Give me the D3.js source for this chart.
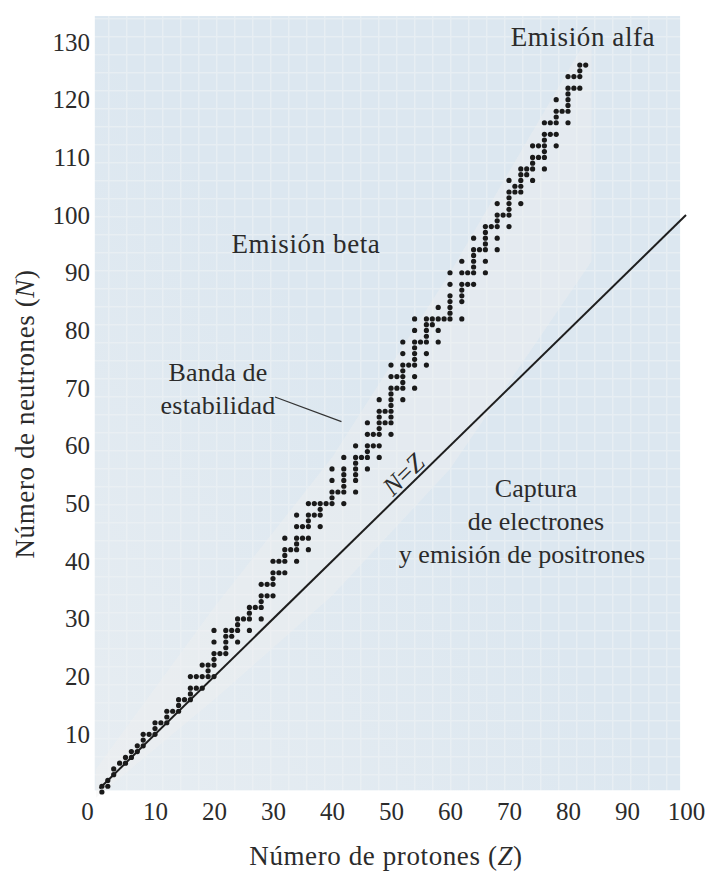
<!DOCTYPE html>
<html><head><meta charset="utf-8">
<script src="https://cdn.jsdelivr.net/npm/d3@7"></script>
<style>body{margin:0;background:#fff}</style>
</head><body>
<svg id="chart" width="709" height="871"></svg>
<script>
// ---- data ----
const xTicks = [0,10,20,30,40,50,60,70,80,90,100];
const yTicks = [10,20,30,40,50,60,70,80,90,100,110,120,130];
// neutron numbers of stable nuclides, indexed by proton number Z-1
const neutronsByZ = [
 [0,1],[1,2],[3,4],[5],[5,6],[6,7],[7,8],[8,9,10],[10],[10,11,12],
 [12],[12,13,14],[14],[14,15,16],[16],[16,17,18,20],[18,20],[18,20,22],[20,21,22],[20,22,23,24,26,28],
 [24],[24,25,26,27,28],[27,28],[26,28,29,30],[30],[28,30,31,32],[32],[30,32,33,34,36],[34,36],[34,36,37,38,40],
 [38,40],[38,40,41,42,44],[42],[40,42,43,44,46,48],[44,46],[42,44,46,47,48,50],[48,50],[46,48,49,50],[50],[50,51,52,54,56],
 [52],[50,52,53,54,55,56,58],[],[52,54,55,56,57,58,60],[58],[56,58,59,60,62,64],[60,62],[58,60,62,63,64,65,66,68],[64,66],[62,64,65,66,67,68,69,70,72,74],
 [70,72],[68,70,71,72,73,74,76,78],[74],[70,72,74,75,76,77,78,80,82],[78],[74,76,78,79,80,81,82],[81,82],[78,80,82,84],[82],[82,83,84,85,86,88,90],
 [],[82,85,86,87,88,90,92],[88,90],[88,90,91,92,93,94,96],[94],[90,92,94,95,96,97,98],[98],[94,96,98,99,100,102],[100],[98,100,101,102,103,104,106],
 [104,105],[102,104,105,106,107,108],[107,108],[106,108,109,110,112],[110,112],[108,110,111,112,113,114,116],[114,116],[112,114,116,117,118,120],[118],[116,118,119,120,121,122,124],
 [122,124],[122,124,125,126],[126]
];
// light stripe behind the band of stability
const stripeZ  = [0, 20, 40, 60, 84];
const stripeLo = [-1, 16, 34, 56, 92];
const stripeHi = [4, 32, 58, 90, 132];

const labelsBand = ["Banda de","estabilidad"];
const labelsCapture = ["Captura","de electrones","y emisión de positrones"];
const captureX = [536, 536, 522];

// ---- build ----
const svg = d3.select("#chart");
const x = d3.scaleLinear().domain([0,100]).range([96,686]);
const y = d3.scaleLinear().domain([0,130]).range([792,42]);
const serif = "'Liberation Serif','Times New Roman',serif";
const ink = "#2b2b2b";

// background panel with printed mesh
const defs = svg.append("defs");
const pat = defs.append("pattern").attr("id","mesh").attr("patternUnits","userSpaceOnUse")
  .attr("width",18).attr("height",18);
pat.append("rect").attr("width",18).attr("height",18).attr("fill","#dce7f0");
pat.append("rect").attr("width",18).attr("height",1.5).attr("fill","#e7eef3");
pat.append("rect").attr("width",1.5).attr("height",18).attr("fill","#e7eef3");
const grad = defs.append("linearGradient").attr("id","fade").attr("x1",0).attr("y1",1).attr("x2",0.5).attr("y2",0.5);
grad.append("stop").attr("offset",0).attr("stop-color","#eef1f3").attr("stop-opacity",0.6);
grad.append("stop").attr("offset",1).attr("stop-color","#eef1f3").attr("stop-opacity",0);

const px0 = x(-0.2), px1 = x(99), py0 = y(134.5), py1 = y(0.3);
svg.append("rect").attr("x",px0).attr("y",py0).attr("width",px1-px0).attr("height",py1-py0).attr("fill","url(#mesh)");
svg.append("rect").attr("x",px0).attr("y",py0).attr("width",px1-px0).attr("height",py1-py0).attr("fill","url(#fade)");

// stripe
const stripe = d3.area().x((d,i)=>x(stripeZ[i])).y0((d,i)=>y(stripeLo[i])).y1((d,i)=>y(stripeHi[i]));
svg.append("path").datum(stripeZ).attr("d",stripe).attr("fill","#eff1f1").attr("opacity",0.4);

// axes (labels only)
const gx = svg.append("g").attr("transform",`translate(0,${y(0)})`)
  .call(d3.axisBottom(x).tickValues(xTicks).tickSize(0).tickPadding(10));
gx.select(".domain").remove();
gx.selectAll("text").attr("font-family",serif).attr("font-size",25).attr("fill",ink)
  .attr("dx",d=>d===0?-9:0);
const gy = svg.append("g").attr("transform",`translate(${x(0)},0)`)
  .call(d3.axisLeft(y).tickValues(yTicks).tickSize(0).tickPadding(6));
gy.select(".domain").remove();
gy.selectAll("text").attr("font-family",serif).attr("font-size",25).attr("fill",ink);

// N = Z line
svg.append("line").attr("x1",x(0.6)).attr("y1",y(0.6)).attr("x2",x(100)).attr("y2",y(100))
  .attr("stroke","#1e1e1e").attr("stroke-width",2);

// points
const pts = [];
neutronsByZ.forEach((ns,i)=>ns.forEach(n=>pts.push({z:i+1,n})));
svg.append("g").selectAll("circle").data(pts).join("circle")
  .attr("cx",d=>x(d.z)).attr("cy",d=>y(d.n)).attr("r",2.6).attr("fill","#1a1a1a");

// text helpers
const txt = (t,cx,cy,size,ls)=>svg.append("text").attr("x",cx).attr("y",cy)
  .attr("text-anchor","middle").attr("font-family",serif).attr("letter-spacing",ls)
  .attr("font-size",size).attr("fill",ink).text(t);

txt("Emisión alfa", 583, 46, 27, 0.6);
txt("Emisión beta", 306, 253, 27, 0.6);
labelsBand.forEach((t,i)=>txt(t, 218, 381+i*33, 26, 0.2));
labelsCapture.forEach((t,i)=>txt(t, captureX[i], 497+i*33, 26, 0));
svg.append("line").attr("x1",275).attr("y1",397).attr("x2",x(41.6)).attr("y2",y(64.2))
  .attr("stroke","#333").attr("stroke-width",1.3);

// N = Z label along the line
const nzLabelZ = 53.15, nzLabelN = 53.97;
const ang = Math.atan2(y(100)-y(0), x(100)-x(0))*180/Math.PI;
const nz = svg.append("text").attr("transform",`translate(${x(nzLabelZ)},${y(nzLabelN)}) rotate(${ang})`)
  .attr("text-anchor","middle").attr("font-family",serif).attr("font-size",26).attr("fill",ink);
nz.append("tspan").attr("font-style","italic").text("N");
nz.append("tspan").text("=");
nz.append("tspan").attr("font-style","italic").text("Z");

// axis titles
const xt = svg.append("text").attr("x",386).attr("y",865).attr("text-anchor","middle")
  .attr("font-family",serif).attr("font-size",27).attr("letter-spacing",0.6).attr("fill",ink);
xt.append("tspan").text("Número de protones (");
xt.append("tspan").attr("font-style","italic").text("Z");
xt.append("tspan").text(")");
const yt = svg.append("text").attr("transform","translate(34,414) rotate(-90)").attr("text-anchor","middle")
  .attr("font-family",serif).attr("font-size",27).attr("letter-spacing",0.6).attr("fill",ink);
yt.append("tspan").text("Número de neutrones (");
yt.append("tspan").attr("font-style","italic").text("N");
yt.append("tspan").text(")");
</script>
</body></html>
